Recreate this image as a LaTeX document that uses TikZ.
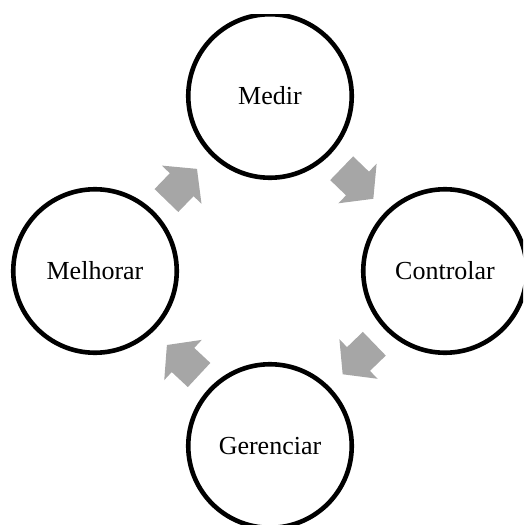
\documentclass[tikz,border=0pt]{standalone}
\usepackage{fontspec}
\setmainfont{Liberation Serif}
\definecolor{arrowgray}{RGB}{166,166,166}
\tikzset{
  stage/.style={circle, draw=black, line width=4.6pt, minimum size=163.5pt, inner sep=0pt, font=\fontsize{26}{30}\selectfont},
  blockarrow/.style={fill=arrowgray, draw=none}
}
\newcommand{\blockarr}[3]{%
  \begin{scope}[shift={(#1,#2)}, rotate=#3]
    \path[blockarrow] (-22,-16.5) -- (0,-16.5) -- (0,-27.5) -- (22,0) -- (0,27.5) -- (0,16.5) -- (-22,16.5) -- cycle;
  \end{scope}}
\begin{document}
\begin{tikzpicture}[x=1pt,y=-1pt]
  \useasboundingbox (0,0) rectangle (523,525);
  \clip (0,14) rectangle (523,525);
  \node[stage] (medir) at (270,96) {Medir};
  \node[stage] (controlar) at (445,271) {Controlar};
  \node[stage] (gerenciar) at (270,446) {Gerenciar};
  \node[stage] (melhorar) at (95,271) {Melhorar};
  \blockarr{357.5}{183.5}{-44}
  \blockarr{358.5}{359}{-136}
  \blockarr{183}{360}{137}
  \blockarr{181.7}{184.7}{46}
\end{tikzpicture}
\end{document}
